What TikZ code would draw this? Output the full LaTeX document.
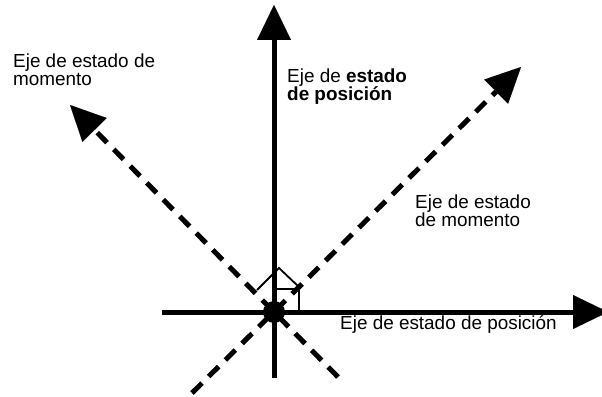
\documentclass[tikz,border=0pt]{standalone}
\usepackage{fontspec}
\setmainfont{Liberation Sans}
\usetikzlibrary{arrows.meta}
\begin{document}
\begin{tikzpicture}[x=1pt,y=-1pt,
  axis/.style={line width=5pt},
  dashaxis/.style={line width=5pt, dash pattern=on 14pt off 9.5pt},
  tipped/.style={-{Triangle[length=35pt,width=34pt,line width=0.01pt]}},
  rmark/.style={line width=1.8pt},
  lab/.style={anchor=north west, inner sep=0pt, align=left, font=\fontsize{18.9}{18.4}\selectfont}]
\useasboundingbox (0,0) rectangle (602,396);
\coordinate (O) at (274,312);
\coordinate (vB) at (274,378);
\coordinate (vT) at (274,5);
\coordinate (hL) at (162,312);
\coordinate (hR) at (608,312);
\coordinate (neS) at (192,393);
\coordinate (neT) at (521,67);
\coordinate (nwS) at (338,377);
\coordinate (nwT) at (70,105);
\draw[axis,tipped] (vB) -- (vT);
\draw[axis,tipped] (hL) -- (hR);
\draw[dashaxis,tipped] (neS) -- (neT);
\draw[dashaxis,tipped] (nwS) -- (nwT);
\draw[rmark] (274,289) -- (299,289) -- (299,312);
\draw[rmark] (257,290) -- (279,268) -- (299,287);
\fill (O) circle (11pt);
\node[lab] (lmomL) at (13,53.3) {Eje de estado de\\momento};
\node[lab] (lposV) at (287,68.3) {Eje de \textbf{estado}\\\textbf{de posición}};
\node[lab] (lmomR) at (415,194.3) {Eje de estado\\de momento};
\node[lab] (lposH) at (340,315.3) {Eje de estado de posición};
\end{tikzpicture}
\end{document}
